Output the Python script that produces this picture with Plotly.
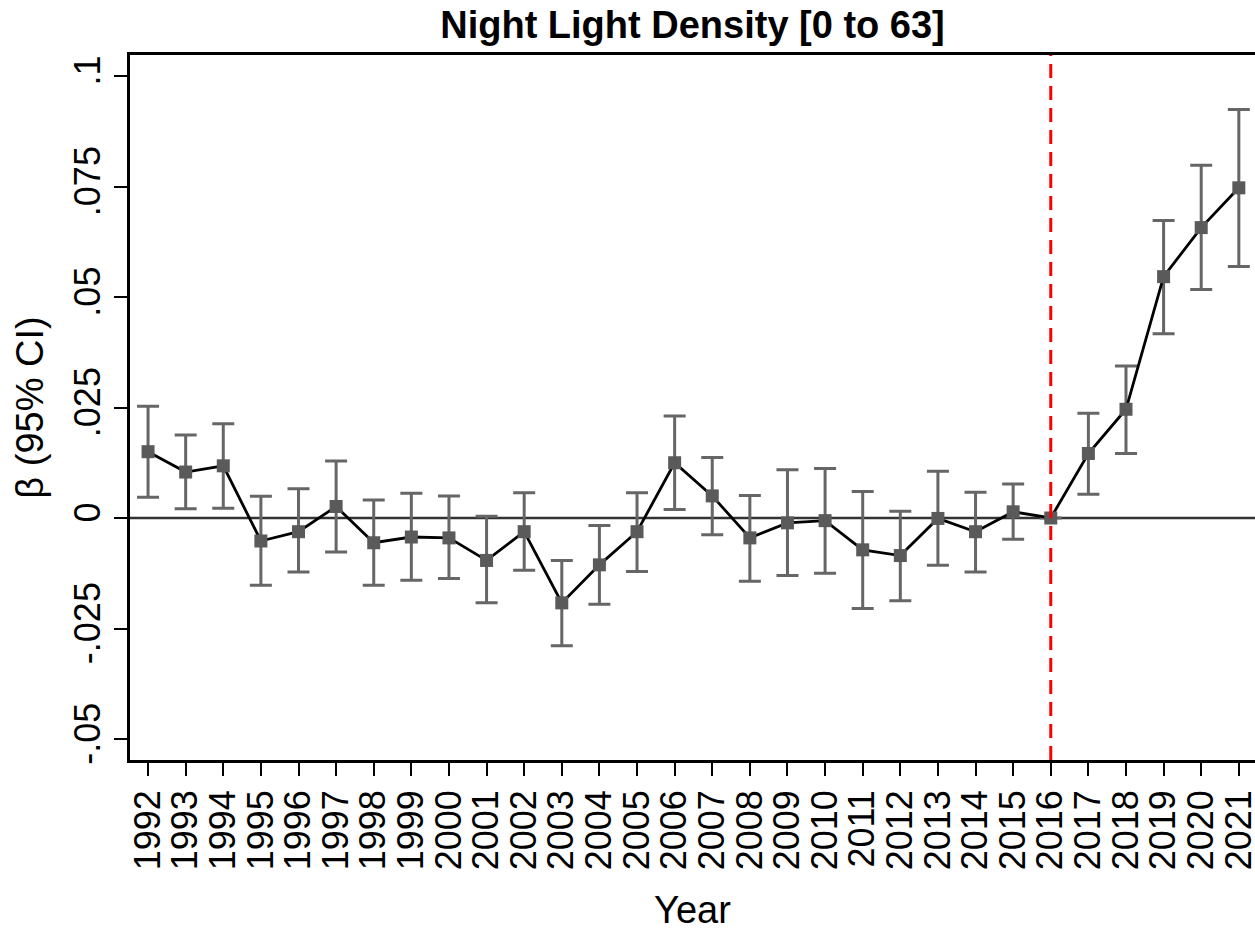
import plotly.graph_objects as go

years = list(range(1992, 2022))
beta = [0.0150, 0.0104, 0.0118, -0.0052, -0.0031, 0.0026, -0.0056, -0.0043, -0.0045, -0.0096,
        -0.0031, -0.0192, -0.0106, -0.0031, 0.0125, 0.0050, -0.0045, -0.0011, -0.0006, -0.0072,
        -0.0085, -0.0001, -0.0031, 0.0014, 0.0, 0.0146, 0.0246, 0.0546, 0.0657, 0.0747]
ci_upper = [0.0253, 0.0188, 0.0213, 0.0049, 0.0066, 0.0129, 0.0041, 0.0056, 0.0050, 0.0004,
            0.0057, -0.0096, -0.0017, 0.0057, 0.0231, 0.0137, 0.0051, 0.0109, 0.0112, 0.0060,
            0.0015, 0.0106, 0.0058, 0.0077, 0.0, 0.0237, 0.0344, 0.0673, 0.0798, 0.0924]
ci_lower = [0.0047, 0.0021, 0.0022, -0.0152, -0.0122, -0.0077, -0.0152, -0.0141, -0.0137, -0.0192,
            -0.0118, -0.0289, -0.0195, -0.0121, 0.0019, -0.0038, -0.0143, -0.0130, -0.0125, -0.0205,
            -0.0187, -0.0107, -0.0122, -0.0048, 0.0, 0.0054, 0.0146, 0.0417, 0.0517, 0.0569]
ref_year = 2016
ytick_vals = [-0.05, -0.025, 0, 0.025, 0.05, 0.075, 0.1]
ytick_text = ["-.05", "-.025", "0", ".025", ".05", ".075", ".1"]

err_plus = [u - b for u, b in zip(ci_upper, beta)]
err_minus = [b - l for b, l in zip(beta, ci_lower)]
# reference year has no interval
err_plus_plot = [None if y == ref_year else e for y, e in zip(years, err_plus)]
err_minus_plot = [None if y == ref_year else e for y, e in zip(years, err_minus)]

FONT = "Liberation Sans, Arial, sans-serif"

fig = go.Figure()
fig.add_trace(go.Scatter(
    x=years, y=beta, mode="lines+markers",
    line=dict(color="black", width=2.8),
    marker=dict(symbol="square", size=13, color="#5a5a5a"),
    error_y=dict(type="data", symmetric=False, array=err_plus_plot, arrayminus=err_minus_plot,
                 color="#666666", thickness=3, width=11),
    showlegend=False,
    cliponaxis=False,
))

fig.add_shape(type="line", xref="paper", yref="y", x0=0, x1=1, y0=0, y1=0,
              line=dict(color="#333333", width=2.5), layer="below")
fig.add_shape(type="line", xref="x", yref="paper", x0=ref_year, x1=ref_year, y0=0, y1=1,
              line=dict(color="red", width=3, dash="14px,8px"), layer="above")

fig.update_layout(
    width=1255, height=931,
    margin=dict(l=130, r=0, t=55, b=171, autoexpand=False),
    paper_bgcolor="white", plot_bgcolor="white",
    font=dict(family=FONT, color="black", size=36),
    title=dict(text="<b>Night Light Density [0 to 63]</b>", x=0.5, xref="paper",
               y=1 - 25 / 931, yref="container", yanchor="middle",
               font=dict(size=38, family=FONT, color="black")),
    xaxis=dict(range=[1991.52, 2021.43], tickmode="array", tickvals=years,
               ticktext=[str(y) for y in years], tickangle=-90, automargin=False,
               ticklabeloverflow="allow",
               ticks="outside", ticklen=13, tickwidth=2, tickcolor="black",
               showline=True, linecolor="black", linewidth=2.5, mirror=True,
               showgrid=False, zeroline=False,
               tickfont=dict(size=36, family=FONT),
               title=dict(text="Year", font=dict(size=38, family=FONT), standoff=31)),
    yaxis=dict(range=[-0.05475, 0.10475], tickmode="array", tickvals=ytick_vals,
               ticktext=ytick_text, tickangle=-90, automargin=False,
               ticks="outside", ticklen=13, tickwidth=2, tickcolor="black",
               showline=True, linecolor="black", linewidth=2.5, mirror=False,
               showgrid=False, zeroline=False,
               tickfont=dict(size=36, family=FONT),
               title=dict(text="β (95% CI)", font=dict(size=38, family=FONT), standoff=12)),
)

fig.write_html("out.html", config={"displayModeBar": False},
               post_script="document.body.style.margin='0';document.body.style.overflow='hidden';")
